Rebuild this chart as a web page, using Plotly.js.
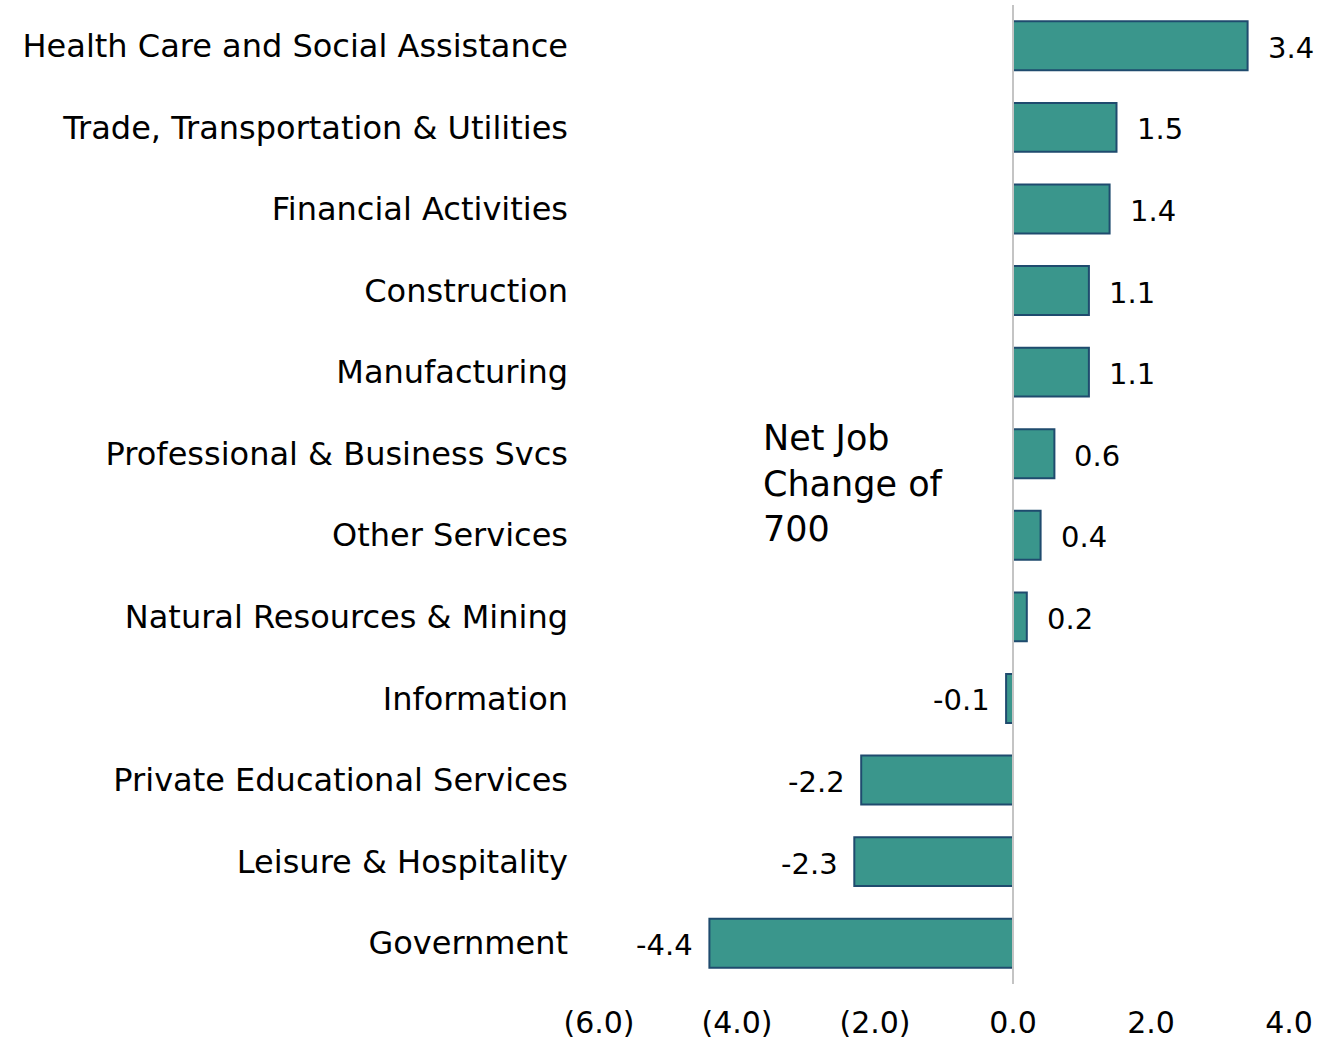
<!DOCTYPE html>
<html>
<head>
<meta charset="utf-8">
<script src="https://cdn.plot.ly/plotly-3.0.1.min.js"></script>
<style>html,body{margin:0;padding:0;background:#fff;}#chart{width:1320px;height:1041px;}</style>
</head>
<body>
<div id="chart"></div>
<script>
const categories = [
  "Health Care and Social Assistance",
  "Trade, Transportation & Utilities",
  "Financial Activities",
  "Construction",
  "Manufacturing",
  "Professional & Business Svcs",
  "Other Services",
  "Natural Resources & Mining",
  "Information",
  "Private Educational Services",
  "Leisure & Hospitality",
  "Government"
];
const values = [3.4, 1.5, 1.4, 1.1, 1.1, 0.6, 0.4, 0.2, -0.1, -2.2, -2.3, -4.4];
const tickVals = [-6, -4, -2, 0, 2, 4];
const tickText = ["(6.0)", "(4.0)", "(2.0)", "0.0", "2.0", "4.0"];
const noteText = "Net Job<br>Change of<br>700";

const FONT = "DejaVu Sans, Verdana, sans-serif";

const trace = {
  type: "bar",
  orientation: "h",
  x: values,
  y: categories,
  width: 0.6,
  marker: {color: "#3a968c", line: {color: "#1f4b6e", width: 2}},
  hoverinfo: "skip"
};

const labelAnns = values.map((v, i) => ({
  x: v, y: categories[i], xref: "x", yref: "y",
  text: v.toFixed(1),
  showarrow: false,
  xanchor: v >= 0 ? "left" : "right",
  xshift: v >= 0 ? 18 : -14,
  yshift: -2,
  font: {family: FONT, size: 29, color: "#000"}
}));

labelAnns.push({
  x: -3.65, y: 5, xref: "x", yref: "y",
  text: noteText,
  showarrow: false,
  xanchor: "left", yanchor: "top",
  align: "left",
  yshift: 38,
  font: {family: FONT, size: 35, color: "#000"}
});

const layout = {
  width: 1320, height: 1041,
  margin: {l: 599, r: 31, t: 5, b: 57},
  paper_bgcolor: "#fff", plot_bgcolor: "#fff",
  showlegend: false,
  xaxis: {
    range: [-6, 4],
    tickvals: tickVals, ticktext: tickText,
    showgrid: false, zeroline: false, showline: false,
    ticks: "",
    tickfont: {family: FONT, size: 30, color: "#000"},
    ticklabelstandoff: 18
  },
  yaxis: {
    autorange: "reversed",
    showgrid: false, zeroline: false, showline: false,
    ticks: "",
    tickfont: {family: FONT, size: 32, color: "#000"},
    ticklabelstandoff: 30
  },
  shapes: [{
    type: "line", xref: "x", yref: "paper",
    x0: 0, x1: 0, y0: 0, y1: 1,
    line: {color: "#c4c4c4", width: 2},
    layer: "above"
  }],
  annotations: labelAnns
};

Plotly.newPlot("chart", [trace], layout, {displayModeBar: false, staticPlot: true});
</script>
</body>
</html>
